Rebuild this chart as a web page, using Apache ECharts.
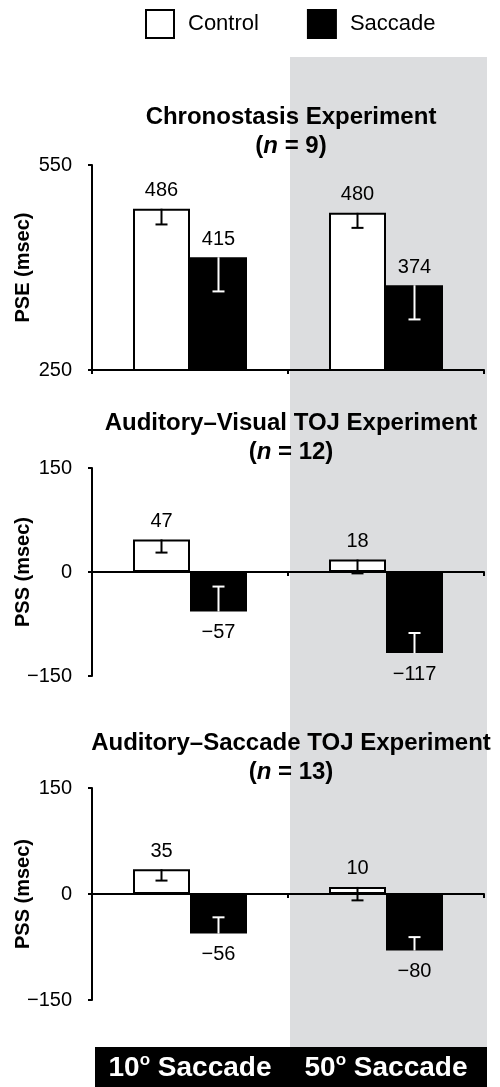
<!DOCTYPE html>
<html><head><meta charset="utf-8">
<script src="https://cdn.jsdelivr.net/npm/echarts@6/dist/echarts.min.js"></script>
<style>html,body{margin:0;padding:0;background:#fff}#c{width:500px;height:1087px}</style>
</head><body><div id="c"></div><script>
// ---------- data ----------
const categories = ['10º Saccade', '50º Saccade'];
const seriesNames = ['Control', 'Saccade'];
const panelTitles = ['Chronostasis Experiment', 'Auditory–Visual TOJ Experiment', 'Auditory–Saccade TOJ Experiment'];
const panelN = [9, 12, 13];
const yNames = ['PSE (msec)', 'PSS (msec)', 'PSS (msec)'];
const yTicks1 = [250, 550];
const yTicks2 = [-150, 0, 150];
const yTicks3 = [-150, 0, 150];
// Chronostasis
const chronoControl = [486, 480];
const chronoSaccade = [415, 374];
const chronoControlErr = [23, 22];
const chronoSaccadeErr = [50, 50];
// Auditory-Visual TOJ
const avControl = [47, 18];
const avSaccade = [-57, -117];
const avControlErr = [19, 20];
const avSaccadeErr = [36, 29];
// Auditory-Saccade TOJ
const asControl = [35, 10];
const asSaccade = [-56, -80];
const asControlErr = [16, 19];
const asSaccadeErr = [23, 19];

// ---------- chart ----------
const FONT = "'Liberation Sans', Arial, Helvetica, sans-serif";
const BAR_W = 57;
const panels = [
  {ticks: yTicks1, control: chronoControl, saccade: chronoSaccade, cErr: chronoControlErr, sErr: chronoSaccadeErr},
  {ticks: yTicks2, control: avControl, saccade: avSaccade, cErr: avControlErr, sErr: avSaccadeErr},
  {ticks: yTicks3, control: asControl, saccade: asSaccade, cErr: asControlErr, sErr: asSaccadeErr}
];
const grids = [
  {left: 92, width: 392, top: 165, height: 205, containLabel: false, outerBoundsMode: 'none'},
  {left: 92, width: 392, top: 468, height: 208, containLabel: false, outerBoundsMode: 'none'},
  {left: 92, width: 392, top: 788, height: 212, containLabel: false, outerBoundsMode: 'none'}
];
const titleTops = [103, 409, 729];

const axisLineStyle = {color: '#000', width: 2};
const minus = v => (v < 0 ? '\u2212' : '') + Math.abs(v);

const xAxes = panels.map((p, i) => ({
  type: 'category', gridIndex: i, data: categories,
  axisLine: {show: true, onZero: true, lineStyle: axisLineStyle},
  axisTick: {show: true, length: 4, lineStyle: axisLineStyle},
  axisLabel: {show: false}, splitLine: {show: false}
}));
xAxes.push({
  type: 'category', gridIndex: 2, data: categories, position: 'bottom',
  axisLine: {show: false, onZero: false}, axisTick: {show: false}, splitLine: {show: false},
  axisLabel: {
    show: true, margin: 52, interval: 0,
    formatter: v => { const parts = v.split('º'); return '{b|' + parts[0] + '}{s|o}{b|' + parts[1] + '}'; },
    rich: {
      b: {fontSize: 28, fontWeight: 'bold', color: '#fff', lineHeight: 32, fontFamily: FONT},
      s: {fontSize: 17, fontWeight: 'bold', color: '#fff', lineHeight: 18, verticalAlign: 'top', fontFamily: FONT}
    }
  }
});

const yAxes = panels.map((p, i) => {
  const t = p.ticks;
  return {
    type: 'value', gridIndex: i, min: t[0], max: t[t.length - 1], interval: t[1] - t[0],
    name: yNames[i], nameLocation: 'middle', nameGap: 59, nameMoveOverlap: false,
    nameTextStyle: {fontSize: 20, fontWeight: 'bold', color: '#000', fontFamily: FONT},
    axisLine: {show: true, onZero: false, lineStyle: axisLineStyle},
    axisTick: {show: true, length: 4, lineStyle: axisLineStyle},
    axisLabel: {margin: 20, fontSize: 20, color: '#000', fontFamily: FONT, formatter: minus},
    splitLine: {show: false}
  };
});

function barSeries(name, vals, i) {
  const isControl = name === 'Control';
  return {
    type: 'bar', name: name, xAxisIndex: i, yAxisIndex: i, barWidth: BAR_W, barGap: '0%',
    itemStyle: isControl ? {color: '#fff', borderColor: '#000', borderWidth: 2} : {color: '#000', borderColor: '#000', borderWidth: 2},
    label: {show: true, fontSize: 20, color: '#000', fontFamily: FONT, formatter: p => minus(p.value)},
    data: vals.map(v => ({value: v, label: {position: v >= 0 ? 'top' : 'bottom', distance: v >= 0 ? 8 : 11}})),
    z: 2
  };
}
function errSeries(vals, errs, i, offset, color) {
  return {
    type: 'custom', xAxisIndex: i, yAxisIndex: i, z: 5, clip: false, silent: true,
    encode: {x: 0, y: 1},
    data: vals.map((v, k) => [k, v, errs[k]]),
    renderItem: (params, api) => {
      const c = api.value(0), v = api.value(1), e = api.value(2);
      const end = v >= 0 ? v - e : v + e;
      const p0 = api.coord([c, v]);
      const p1 = api.coord([c, end]);
      const x = p0[0] + offset;
      return {type: 'group', children: [
        {type: 'line', shape: {x1: x, y1: p0[1], x2: x, y2: p1[1]}, style: {stroke: color, lineWidth: 2}},
        {type: 'line', shape: {x1: x - 6, y1: p1[1], x2: x + 6, y2: p1[1]}, style: {stroke: color, lineWidth: 2}}
      ]};
    }
  };
}

const series = [];
panels.forEach((p, i) => {
  series.push(barSeries(seriesNames[0], p.control, i));
  series.push(barSeries(seriesNames[1], p.saccade, i));
  series.push(errSeries(p.control, p.cErr, i, -BAR_W / 2, '#000'));
  series.push(errSeries(p.saccade, p.sErr, i, BAR_W / 2, '#fff'));
});

const titleRich = {
  b: {fontSize: 24, fontWeight: 'bold', color: '#000', lineHeight: 29, fontFamily: FONT},
  i: {fontSize: 24, fontWeight: 'bold', fontStyle: 'italic', color: '#000', lineHeight: 29, fontFamily: FONT}
};

const option = {
  animation: false,
  backgroundColor: '#fff',
  textStyle: {fontFamily: FONT},
  title: panelTitles.map((t, i) => ({
    text: '{b|' + t + '}\n{b|(}{i|n}{b| = ' + panelN[i] + ')}',
    left: 291, top: titleTops[i], textAlign: 'center', padding: 0,
    textStyle: {rich: titleRich}
  })),
  legend: {
    data: [
      {name: seriesNames[0], itemStyle: {color: '#fff', borderColor: '#000', borderWidth: 2}},
      {name: seriesNames[1], itemStyle: {color: '#000', borderColor: '#000', borderWidth: 2}}
    ],
    left: 145, top: 9, padding: 0, itemWidth: 28, itemHeight: 28, itemGap: 48, icon: 'rect', selectedMode: false,
    textStyle: {fontSize: 22, color: '#000', padding: [0, 0, 0, 9], fontFamily: FONT}
  },
  graphic: [
    {type: 'rect', shape: {x: 290, y: 57, width: 197, height: 990}, style: {fill: '#dcdddf'}, z: -1, silent: true},
    {type: 'rect', shape: {x: 95, y: 1047, width: 392, height: 40}, style: {fill: '#000'}, z: -1, silent: true}
  ],
  grid: grids,
  xAxis: xAxes,
  yAxis: yAxes,
  series: series
};
const chart = echarts.init(document.getElementById('c'), null, {renderer: 'canvas'});
chart.setOption(option);
</script></body></html>
